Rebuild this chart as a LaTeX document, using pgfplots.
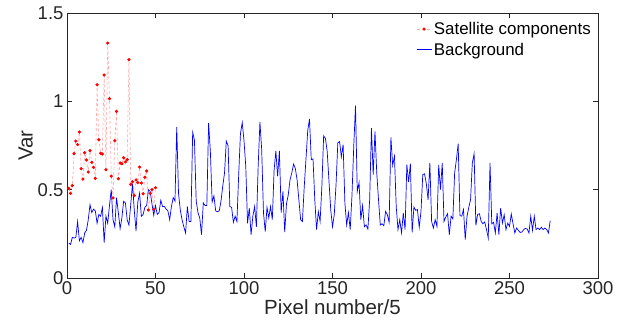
\documentclass[border=0pt]{standalone}
\usepackage{pgfplots}
\pgfplotsset{compat=1.18}
\usepackage{fontspec}
\setmainfont{Liberation Sans}
\definecolor{axgray}{RGB}{38,38,38}
\definecolor{pinkline}{RGB}{255,170,170}
\pgfplotsset{
  shortlegend/.style={legend image code/.code={%
    \draw[mark repeat=2,mark phase=2,##1] plot coordinates {(0pt,0pt) (7.5pt,0pt) (15pt,0pt)};}},
}
\begin{document}
\begin{tikzpicture}
\path[use as bounding box] (-67pt,-55pt) rectangle (562pt,278pt);
\begin{axis}[
  scale only axis, width=531pt, height=265pt,
  at={(0pt,0pt)}, anchor=south west,
  xmin=0, xmax=300, ymin=0, ymax=1.5,
  xtick={0,50,100,150,200,250,300},
  ytick={0,0.5,1,1.5},
  yticklabels={0,0.5,1,1.5},
  tick pos=both, tick align=inside,
  major tick length=5pt,
  axis line style={axgray, line width=0.6pt},
  every tick/.style={axgray, line width=0.6pt},
  /pgf/number format/assume math mode=true,
  tick label style={font=\fontsize{18.5}{20}\selectfont, text=axgray},
  label style={font=\fontsize{20.5}{22}\selectfont, text=axgray},
  xlabel={Pixel number/5},
  ylabel={Var},
  xlabel style={yshift=2pt},
  ylabel style={yshift=-2pt},
  legend style={at={(1,1)}, anchor=north east, draw=none, fill=none,
    font=\fontsize{16.9}{18}\selectfont, row sep=3pt, xshift=-2pt, yshift=-5pt},
  legend cell align=left,
]
\addplot[shortlegend, color=pinkline, densely dashed, line width=0.6pt, mark=*, mark size=1.3pt,
  mark options={solid, fill=red, draw=red}] coordinates {
(1,0.507) (2,0.479) (3,0.523) (4,0.704) (5,0.775) (6,0.755) (7,0.826) (8,0.619) (9,0.560) (10,0.709)
(11,0.668) (12,0.600) (13,0.721) (14,0.655) (15,0.626) (16,0.564) (17,1.094) (18,0.783) (19,0.706) (20,0.702)
(21,1.149) (22,0.613) (23,1.330) (24,1.015) (25,0.577) (26,0.453) (27,0.777) (28,0.943) (29,0.562) (30,0.651)
(31,0.647) (32,0.681) (33,0.657) (34,0.670) (35,1.236) (36,0.530) (37,0.545) (38,0.466) (39,0.555) (40,0.540)
(41,0.628) (42,0.538) (43,0.477) (44,0.570) (45,0.606) (46,0.385) (47,0.479) (48,0.500) (49,0.389) (50,0.511)
};
\addlegendentry{Satellite components}
\addplot[shortlegend, color=blue, line width=0.7pt] coordinates {
(1,0.198) (2,0.19) (3,0.23) (4,0.226) (5,0.23) (6,0.32) (7,0.21) (8,0.23) (9,0.20) (10,0.255)
(11,0.27) (12,0.33) (13,0.415) (14,0.37) (15,0.39) (16,0.38) (17,0.31) (18,0.36) (19,0.35) (20,0.40)
(21,0.20) (22,0.35) (23,0.31) (24,0.41) (25,0.50) (26,0.33) (27,0.29) (28,0.455) (29,0.37) (30,0.28)
(31,0.34) (32,0.435) (33,0.425) (34,0.33) (35,0.30) (36,0.415) (37,0.534) (38,0.385) (39,0.266) (40,0.43)
(41,0.48) (42,0.35) (43,0.36) (44,0.40) (45,0.41) (46,0.50) (47,0.49) (48,0.42) (49,0.355) (50,0.41)
(51,0.36) (52,0.37) (53,0.44) (54,0.405) (55,0.405) (56,0.39) (57,0.38) (58,0.33) (59,0.405) (60,0.455)
(61,0.435) (62,0.855) (63,0.48) (64,0.385) (65,0.33) (66,0.29) (67,0.255) (68,0.405) (69,0.32) (70,0.32)
(71,0.825) (72,0.78) (73,0.435) (74,0.37) (75,0.34) (76,0.245) (77,0.425) (78,0.41) (79,0.41) (80,0.877)
(81,0.715) (82,0.43) (83,0.465) (84,0.38) (85,0.375) (86,0.38) (87,0.435) (88,0.52) (89,0.595) (90,0.775)
(91,0.75) (92,0.405) (93,0.40) (94,0.315) (95,0.35) (96,0.32) (97,0.585) (98,0.817) (99,0.88) (100,0.777)
(101,0.632) (102,0.31) (103,0.396) (104,0.245) (105,0.35) (106,0.405) (107,0.29) (108,0.632) (109,0.883) (110,0.726)
(111,0.37) (112,0.262) (113,0.40) (114,0.34) (115,0.405) (116,0.33) (117,0.61) (118,0.72) (119,0.575) (120,0.72)
(121,0.37) (122,0.49) (123,0.26) (124,0.42) (125,0.47) (126,0.555) (127,0.595) (128,0.645) (129,0.62) (130,0.555)
(131,0.443) (132,0.33) (133,0.32) (134,0.51) (135,0.67) (136,0.834) (137,0.90) (138,0.67) (139,0.674) (140,0.44)
(141,0.274) (142,0.375) (143,0.32) (144,0.52) (145,0.805) (146,0.79) (147,0.717) (148,0.55) (149,0.387) (150,0.29)
(151,0.36) (152,0.528) (153,0.765) (154,0.773) (155,0.685) (156,0.755) (157,0.425) (158,0.30) (159,0.37) (160,0.274)
(161,0.466) (162,0.745) (163,0.975) (164,0.49) (165,0.54) (166,0.33) (167,0.41) (168,0.29) (169,0.30) (170,0.277)
(171,0.443) (172,0.849) (173,0.585) (174,0.83) (175,0.595) (176,0.443) (177,0.30) (178,0.307) (179,0.296) (180,0.377)
(181,0.358) (182,0.315) (183,0.796) (184,0.638) (185,0.689) (186,0.405) (187,0.274) (188,0.33) (189,0.255) (190,0.368)
(191,0.274) (192,0.642) (193,0.543) (194,0.647) (195,0.258) (196,0.402) (197,0.383) (198,0.387) (199,0.287) (200,0.377)
(201,0.585) (202,0.59) (203,0.534) (204,0.443) (205,0.651) (206,0.32) (207,0.283) (208,0.33) (209,0.292) (210,0.64)
(211,0.50) (212,0.651) (213,0.32) (214,0.345) (215,0.364) (216,0.245) (217,0.35) (218,0.334) (219,0.594) (220,0.67)
(221,0.76) (222,0.353) (223,0.35) (224,0.387) (225,0.217) (226,0.35) (227,0.40) (228,0.443) (229,0.651) (230,0.704)
(231,0.298) (232,0.36) (233,0.364) (234,0.32) (235,0.307) (236,0.317) (237,0.274) (238,0.226) (239,0.651) (240,0.307)
(241,0.315) (242,0.255) (243,0.368) (244,0.245) (245,0.396) (246,0.311) (247,0.358) (248,0.274) (249,0.311) (250,0.292)
(251,0.362) (252,0.307) (253,0.255) (254,0.283) (255,0.27) (256,0.258) (257,0.26) (258,0.274) (259,0.281) (260,0.277)
(261,0.255) (262,0.35) (263,0.27) (264,0.35) (265,0.274) (266,0.283) (267,0.274) (268,0.287) (269,0.274) (270,0.283)
(271,0.274) (272,0.255) (273,0.325)
};
\addlegendentry{Background}
\end{axis}
\end{tikzpicture}
\end{document}
